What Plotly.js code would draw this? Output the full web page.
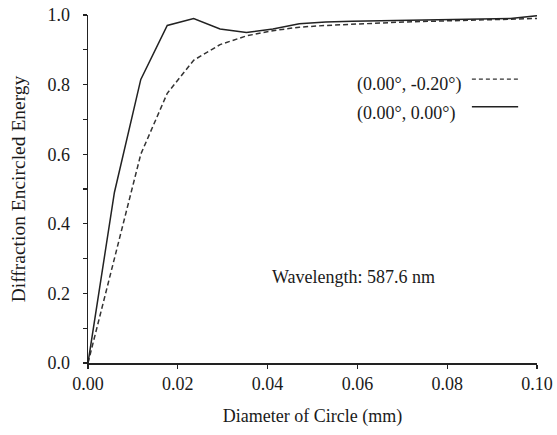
<!DOCTYPE html>
<html>
<head>
<meta charset="utf-8">
<script src="https://cdn.plot.ly/plotly-3.0.1.min.js"></script>
<style>html,body{margin:0;padding:0;background:#fff;}#chart{width:557px;height:435px;}</style>
</head>
<body>
<div id="chart"></div>
<script>
// Diameter of circle (mm)
const diameter = [0, 0.00588, 0.01176, 0.01765, 0.02353, 0.02941, 0.03529, 0.04118, 0.04706,
  0.05294, 0.05882, 0.06471, 0.07059, 0.07647, 0.08235, 0.08824, 0.09412, 0.1];
// Field (0.00°, 0.00°) – solid
const onAxis = [0, 0.49, 0.815, 0.97, 0.99, 0.96, 0.95, 0.96, 0.975,
  0.98, 0.982, 0.983, 0.985, 0.986, 0.987, 0.988, 0.99, 0.998];
// Field (0.00°, -0.20°) – dashed
const offAxis = [0, 0.30, 0.60, 0.775, 0.87, 0.915, 0.94, 0.955, 0.965,
  0.970, 0.974, 0.977, 0.980, 0.982, 0.984, 0.986, 0.988, 0.99];
const seriesNames = ['(0.00°, -0.20°)', '(0.00°, 0.00°)'];
const xTicks = [0, 0.02, 0.04, 0.06, 0.08, 0.10];
const xTickText = ['0.00', '0.02', '0.04', '0.06', '0.08', '0.10'];
const yTicks = [0, 0.2, 0.4, 0.6, 0.8, 1.0];
const yTickText = ['0.0', '0.2', '0.4', '0.6', '0.8', '1.0'];

const FONT = 'Liberation Serif, Times New Roman, serif';
const TXT = '#1a1a1a';
const FS = 18;

const traces = [
  {x: diameter, y: offAxis, name: seriesNames[0], mode: 'lines',
   line: {color: '#333', width: 1.5, dash: '5px,3px'}, showlegend: false},
  {x: diameter, y: onAxis, name: seriesNames[1], mode: 'lines',
   line: {color: '#222', width: 1.5}, showlegend: false}
];

const layout = {
  width: 557, height: 435,
  margin: {l: 88, r: 20, t: 15, b: 72},
  paper_bgcolor: '#fff', plot_bgcolor: '#fff',
  font: {family: FONT, size: FS, color: TXT},
  xaxis: {
    range: [0, 0.1], tickvals: xTicks, ticktext: xTickText,
    showgrid: false, zeroline: false, showline: true, linecolor: '#222', linewidth: 1.5,
    ticks: 'outside', ticklen: 4, tickwidth: 1.2, tickcolor: '#222',
    tickfont: {family: FONT, size: FS, color: TXT},
    title: {text: 'Diameter of Circle (mm)', font: {family: FONT, size: FS, color: TXT}, standoff: 16}
  },
  yaxis: {
    range: [0, 1], tickvals: yTicks, ticktext: yTickText,
    showgrid: false, zeroline: false, showline: true, linecolor: '#222', linewidth: 1.5,
    ticks: 'outside', ticklen: 4, tickwidth: 1.2, tickcolor: '#222', ticklabelstandoff: 9,
    minor: {dtick: 0.1, ticks: 'outside', ticklen: 4, tickwidth: 1.2, tickcolor: '#222', showgrid: false},
    tickfont: {family: FONT, size: FS, color: TXT},
    title: {text: 'Diffraction Encircled Energy', font: {family: FONT, size: 19.5, color: TXT}, standoff: 16}
  },
  showlegend: false,
  annotations: [
    {xref: 'paper', yref: 'paper', x: 0.595, y: 0.799, xanchor: 'left', yanchor: 'middle',
     text: seriesNames[0], showarrow: false, font: {family: FONT, size: FS, color: TXT}},
    {xref: 'paper', yref: 'paper', x: 0.595, y: 0.718, xanchor: 'left', yanchor: 'middle',
     text: seriesNames[1], showarrow: false, font: {family: FONT, size: FS, color: TXT}},
    {xref: 'paper', yref: 'paper', x: 0.405, y: 0.247, xanchor: 'left', yanchor: 'middle',
     text: 'Wavelength: 587.6 nm', showarrow: false, font: {family: FONT, size: FS, color: TXT}}
  ],
  shapes: [
    {type: 'line', xref: 'paper', yref: 'paper', x0: 0.855, x1: 0.958, y0: 0.816, y1: 0.816,
     line: {color: '#333', width: 1.2, dash: '4px,3px'}},
    {type: 'line', xref: 'paper', yref: 'paper', x0: 0.855, x1: 0.958, y0: 0.736, y1: 0.736,
     line: {color: '#222', width: 1.5}}
  ]
};

Plotly.newPlot('chart', traces, layout, {displayModeBar: false, staticPlot: true});
</script>
</body>
</html>
